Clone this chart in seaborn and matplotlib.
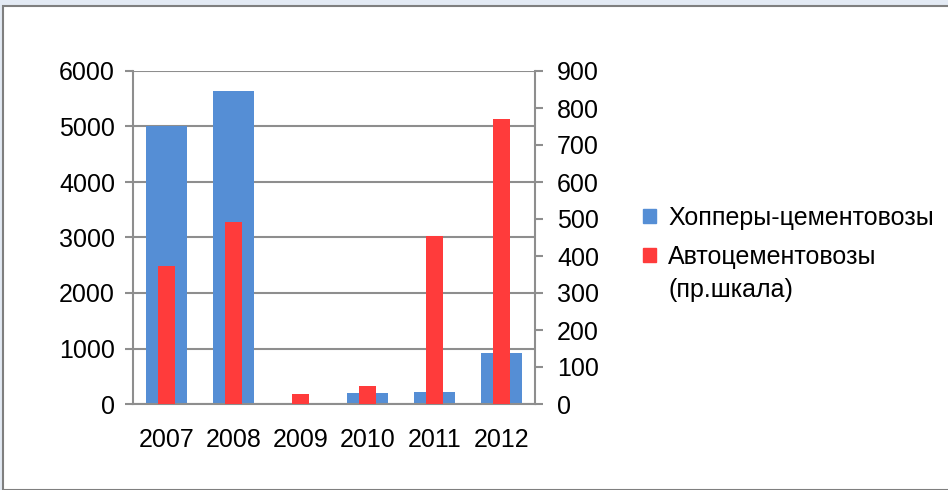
import numpy as np
import pandas as pd
import seaborn as sns
import matplotlib.pyplot as plt
from matplotlib.patches import Rectangle

years = ["2007", "2008", "2009", "2010", "2011", "2012"]
hoppers = [5000, 5640, 10, 200, 215, 920]
auto = [373, 493, 28, 49, 455, 770]
label_hop = "Хопперы-цементовозы"
label_auto = "Автоцементовозы"
label_note = "(пр.шкала)"

blue = "#558ed5"
red = "#ff3b3b"
grid_c = "#8e8e8e"
fs = 18

df = pd.DataFrame({"year": years, "hop": hoppers, "auto": auto})

sns.set_theme(style="white")
plt.rcParams["font.family"] = ["Liberation Sans", "DejaVu Sans"]
plt.rcParams["text.color"] = "black"
plt.rcParams["xtick.color"] = "black"
plt.rcParams["ytick.color"] = "black"

fig = plt.figure(figsize=(9.48, 4.9), dpi=100)
fig.patch.set_facecolor("#e3eaf4")
# white chart panel with a grey frame
fig.patches.append(Rectangle((3 / 948, 0), 1, 1 - 6 / 490, transform=fig.transFigure,
                             facecolor="white", edgecolor="#7f7f7f", lw=1.5, zorder=-5))

ax = fig.add_axes([133 / 948, 1 - 404 / 490, (535 - 133) / 948, (404 - 71) / 490])
ax.set_facecolor("none")
sns.barplot(data=df, x="year", y="hop", color=blue, width=0.6, saturation=1,
            linewidth=0, ax=ax, zorder=2)
ax.set_ylim(0, 6000)
ax.set_xlim(-0.5, 5.5)
ax.set_yticks(np.arange(0, 6001, 1000))
ax.yaxis.grid(True, color=grid_c, lw=1.5)
ax.set_axisbelow(True)
ax.set_xlabel("")
ax.set_ylabel("")

ax2 = ax.twinx()
sns.barplot(data=df, x="year", y="auto", color=red, width=0.24, saturation=1,
            linewidth=0, ax=ax2, zorder=3)
ax2.set_ylim(0, 900)
ax2.set_xlim(-0.5, 5.5)
ax2.set_yticks(np.arange(0, 901, 100))
ax2.set_ylabel("")

for a in (ax, ax2):
    for s in a.spines.values():
        s.set_color(grid_c)
        s.set_linewidth(1.5)
    a.spines["top"].set_visible(False)

ax.spines["right"].set_visible(False)
ax2.spines["left"].set_visible(False)
ax2.spines["bottom"].set_visible(False)

ax.set_xticks(np.arange(-0.5, 5.6, 1), minor=True)
ax.tick_params(axis="x", which="major", length=0, pad=17, labelsize=fs, labelcolor="black")
ax.tick_params(axis="x", which="minor", length=9, width=1.5, color=grid_c, direction="out")
ax.tick_params(axis="y", length=6, width=1.5, color=grid_c, direction="out", pad=7,
               labelsize=fs, left=True, labelcolor="black")
ax2.tick_params(axis="y", length=6, width=1.5, color=grid_c, direction="out", pad=10,
                labelsize=fs, right=True, labelcolor="black")

handles = [Rectangle((0, 0), 1, 1, color=blue), Rectangle((0, 0), 1, 1, color=red)]
leg = fig.legend(handles, [label_hop, label_auto], loc="center left",
                 bbox_to_anchor=(643 / 948, 1 - 237 / 490), frameon=False, fontsize=fs,
                 handlelength=0.5, handleheight=0.5, handletextpad=0.5,
                 labelspacing=0.6, borderpad=0, borderaxespad=0)
for t in leg.get_texts():
    t.set_color("black")
fig.text(668 / 948, 1 - 290 / 490, label_note, fontsize=fs, va="center", ha="left",
         color="black")

fig.savefig("out.png", dpi=100)
